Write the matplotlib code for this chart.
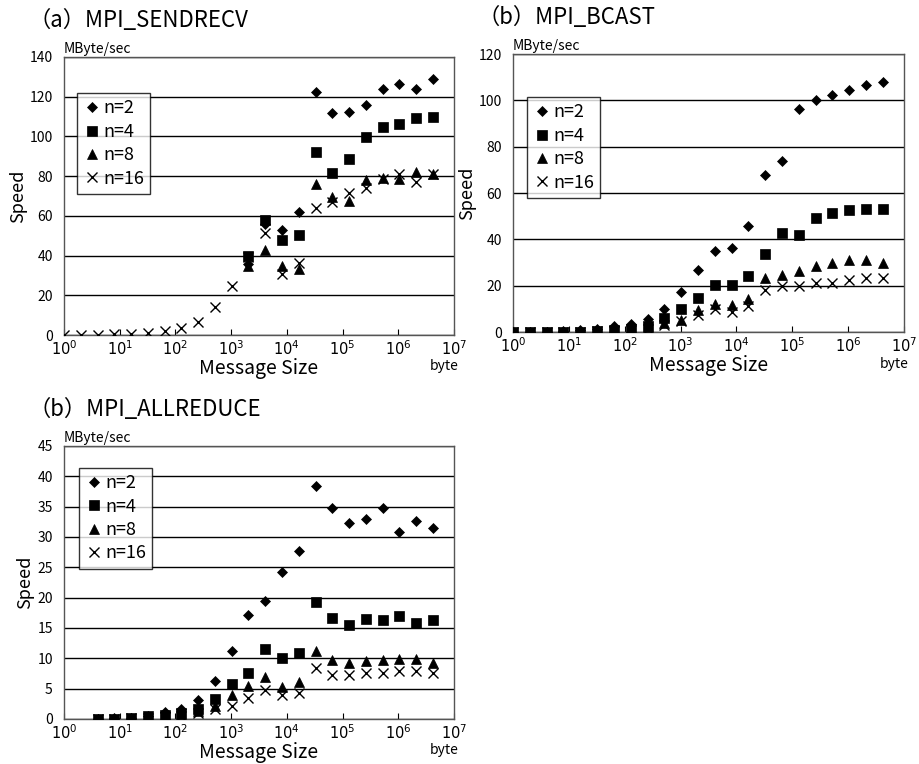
import numpy as np
import matplotlib
matplotlib.use("Agg")
import matplotlib.pyplot as plt
from matplotlib.ticker import FixedLocator, FuncFormatter

plt.rcParams["font.family"] = ["Noto Sans CJK JP", "DejaVu Sans"]

nan = np.nan

# message sizes: 2^0 .. 2^22 bytes
sizes = [2 ** k for k in range(23)]

# (a) MPI_SENDRECV  (MByte/sec)
send_n2 = [nan] * 11 + [36, 56, 52.8, 62, 122.4, 111.7, 112.4, 116, 124.1, 126.6, 124.1, 129.1]
send_n4 = [nan] * 11 + [40, 57.8, 47.8, 50.6, 92.2, 81.8, 88.4, 99.6, 104.5, 106.3, 109.3, 110]
send_n8 = [nan] * 11 + [35, 42.8, 34.9, 33, 75.8, 69.6, 67.4, 78, 79, 78.5, 82.2, 81]
send_n16 = [0, 0.1, 0.2, 0.4, 0.6, 1.0, 2.2, 3.4, 6.5, 13.9, 24.8, 39.1, 51.5, 30.5, 36.1,
            64.2, 66.9, 71.3, 74.1, 78.5, 81.3, 77.1, 81.3]

# (b) MPI_BCAST
bcast_n2 = [0, 0.1, 0.2, 0.4, 0.8, 1.3, 2.4, 3.6, 5.6, 9.9, 17.4, 26.9, 34.8, 36.2, 45.8,
            67.7, 73.9, 96.1, 100, 102.3, 104.6, 106.6, 107.8]
bcast_n4 = [0, 0, 0, 0.1, 0.2, 0.5, 0.8, 1.5, 2.5, 6.0, 9.9, 14.9, 20.1, 20.4, 24.3,
            33.8, 42.8, 41.8, 49.2, 51.3, 52.5, 53.0, 53.3]
bcast_n8 = [0, 0, 0, 0.1, 0.2, 0.4, 0.7, 1.2, 2.0, 4.0, 5.3, 9.3, 12.1, 11.8, 14.4,
            23.3, 24.7, 26.2, 28.3, 29.7, 31.2, 31.2, 30.0]
bcast_n16 = [0, 0, 0, 0.1, 0.1, 0.3, 0.5, 0.8, 1.5, 3.0, 4.6, 7.5, 10.1, 8.6, 11.1,
             18.0, 20.0, 20.0, 21.1, 21.1, 22.6, 23.3, 23.3]

# (b) MPI_ALLREDUCE  (starts at 4 bytes)
allred_n2 = [nan, nan, 0, 0.1, 0.2, 0.5, 1.2, 1.7, 3.1, 6.2, 11.2, 17.2, 19.4, 24.3, 27.6,
             38.4, 34.8, 32.3, 33.0, 34.8, 30.8, 32.6, 31.4]
allred_n4 = [nan, nan, 0, 0.05, 0.2, 0.4, 0.6, 1.0, 1.7, 3.3, 5.8, 7.6, 11.6, 10.1, 10.8,
             19.3, 16.7, 15.5, 16.5, 16.3, 16.9, 15.8, 16.3]
allred_n8 = [nan, nan, 0, 0, 0.1, 0.3, 0.5, 0.8, 1.3, 2.2, 3.9, 5.5, 6.9, 5.3, 6.1,
             11.2, 9.7, 9.3, 9.6, 9.7, 9.9, 9.9, 9.3]
allred_n16 = [nan, nan, 0, 0, 0.1, 0.2, 0.3, 0.5, 0.9, 1.6, 2.1, 3.5, 4.7, 4.0, 4.2,
              8.4, 7.2, 7.2, 7.6, 7.6, 7.9, 7.9, 7.6]

labels = ["n=2", "n=4", "n=8", "n=16"]
markers = [("D", 5.5), ("s", 7), ("^", 6.5), ("x", 7)]


def draw_panel(ax, title, series, ymax, ystep, legend_xy):
    for (m, ms), vals, lab in zip(markers, series, labels):
        ax.plot(sizes, vals, linestyle="none", marker=m, markersize=ms, color="black",
                markeredgewidth=1.0 if m == "x" else 0.5, label=lab, zorder=3)
    ax.set_xscale("log")
    ax.set_xlim(1, 1e7)
    ax.set_ylim(0, ymax)
    ax.set_yticks(np.arange(0, ymax + 0.1, ystep))
    ax.xaxis.set_major_locator(FixedLocator([10.0 ** k for k in range(8)]))
    ax.xaxis.set_minor_locator(FixedLocator([]))
    ax.xaxis.set_major_formatter(FuncFormatter(lambda v, p: r"$10^{%d}$" % round(np.log10(v))))
    ax.tick_params(axis="x", direction="in", length=4, labelsize=10.5, pad=3)
    ax.tick_params(axis="y", direction="out", length=0, labelsize=10, pad=8)
    ax.grid(axis="y", color="black", linewidth=1.0)
    ax.set_axisbelow(True)
    for s in ax.spines.values():
        s.set_color("#555555")
        s.set_linewidth(1.0)
    ax.set_ylabel("Speed", fontsize=13, labelpad=2)
    ax.set_xlabel("Message Size", fontsize=14, labelpad=0)
    ax.text(0.0, 1.005, "MByte/sec", transform=ax.transAxes, fontsize=10, ha="left", va="bottom")
    ax.text(0.975, -0.088, "byte", transform=ax.transAxes, fontsize=10, ha="center", va="top")
    ax.text(-0.09, 1.09, title, transform=ax.transAxes, fontsize=16, ha="left", va="bottom")
    leg = ax.legend(loc="upper left", bbox_to_anchor=legend_xy, fontsize=13, frameon=True,
                    fancybox=False, edgecolor="black", handletextpad=0.1, handlelength=1.0,
                    borderpad=0.35, labelspacing=0.3, borderaxespad=0)
    leg.get_frame().set_linewidth(1.0)
    leg.set_zorder(5)


fig = plt.figure(figsize=(9.19, 7.64), dpi=100)
ax1 = fig.add_axes([0.0696, 0.5615, 0.4244, 0.3639])
ax2 = fig.add_axes([0.5582, 0.5654, 0.4255, 0.3639])
ax3 = fig.add_axes([0.0696, 0.0590, 0.4244, 0.3573])

draw_panel(ax1, "（a）MPI_SENDRECV", [send_n2, send_n4, send_n8, send_n16], 140, 20, (0.033, 0.87))
draw_panel(ax2, "（b）MPI_BCAST", [bcast_n2, bcast_n4, bcast_n8, bcast_n16], 120, 20, (0.036, 0.845))
draw_panel(ax3, "（b）MPI_ALLREDUCE", [allred_n2, allred_n4, allred_n8, allred_n16], 45, 5, (0.038, 0.92))

fig.savefig("out.png", dpi=100)
